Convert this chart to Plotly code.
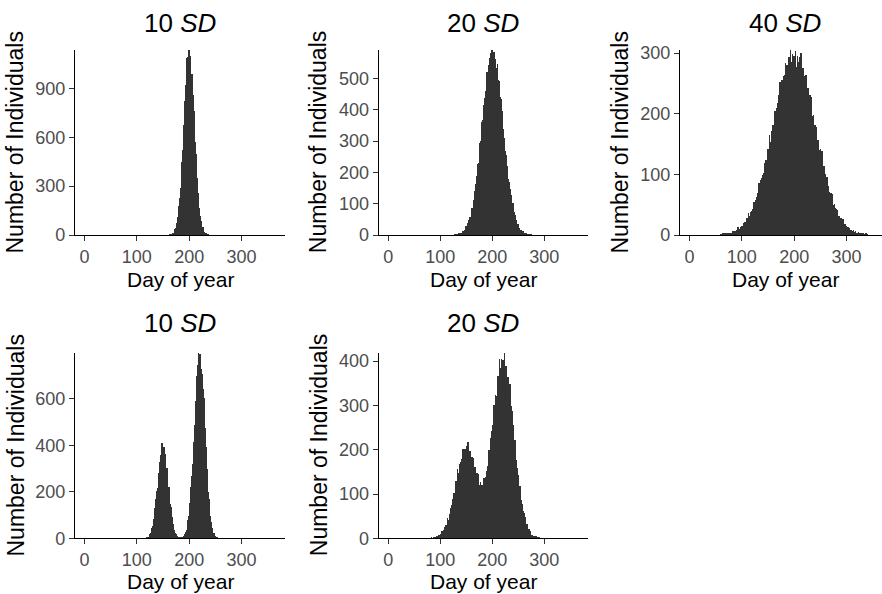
import plotly.graph_objects as go

# ---- daily counts of individuals (one bin per day), listed from the first day shown ----
sd10_start = 163
sd10_counts = [
    2, 0, 2, 5, 4, 5, 11, 12, 11, 24,
    34, 37, 44, 76, 76, 101, 109, 161, 175, 226,
    272, 290, 366, 446, 468, 520, 626, 676, 699, 820,
    898, 921, 958, 1083, 1051, 1095, 1064, 1135, 1084, 1101,
    1081, 990, 989, 970, 857, 780, 762, 676, 569, 553,
    499, 413, 347, 341, 257, 223, 167, 161, 115, 103,
    84, 53, 51, 47, 27, 18, 20, 12, 5, 8,
    7, 3, 1, 4, 1,
]

sd20_start = 126
sd20_counts = [
    0, 1, 0, 1, 2, 1, 3, 2, 2, 4, 3, 5, 4, 7, 6,
    8, 5, 13, 9, 14, 17, 12, 20, 29, 23, 23, 37, 37, 31, 48, 58, 55, 57, 85, 74,
    87, 82, 112, 107, 127, 141, 133, 162, 189, 180, 186, 226, 231, 222, 269, 294, 291, 299, 361, 340,
    367, 357, 415, 402, 438, 459, 437, 483, 521, 494, 495, 544, 538, 510, 564, 583, 559, 550, 591, 563,
    574, 538, 585, 545, 561, 559, 510, 533, 547, 494, 470, 493, 463, 414, 440, 434, 393, 366, 397, 340,
    332, 290, 309, 267, 267, 254, 212, 218, 219, 180, 159, 168, 147, 117, 129, 124, 101, 87, 102, 74,
    72, 53, 64, 47, 48, 44, 29, 34, 35, 23, 18, 22, 17, 9, 15, 14, 9, 6, 12, 5,
    5, 2, 6, 2, 4, 3, 0, 2, 3, 1, 0, 1, 0, 1,
]

sd40_start = 60
sd40_counts = [
    1, 0, 1, 2, 0, 0, 2, 1, 0, 2, 3, 1, 1, 4, 2, 2, 1, 4, 2, 4,
    4, 1, 4, 7, 3, 3, 7, 5, 2, 7, 9, 6, 5, 13, 8, 10, 6, 13, 9, 13,
    15, 9, 15, 20, 14, 13, 21, 19, 14, 24, 28, 23, 22, 36, 26, 31, 25, 38, 31, 39,
    43, 34, 45, 54, 44, 43, 58, 55, 46, 63, 70, 63, 62, 85, 70, 78, 68, 91, 80, 94,
    99, 86, 103, 118, 103, 102, 124, 120, 105, 132, 141, 132, 130, 165, 143, 153, 140, 171, 156, 174,
    181, 162, 185, 205, 184, 181, 209, 203, 185, 218, 230, 216, 213, 253, 225, 237, 219, 256, 236, 255,
    262, 237, 263, 284, 257, 251, 281, 272, 247, 282, 293, 275, 267, 305, 277, 286, 264, 299, 274, 292,
    295, 266, 289, 303, 277, 268, 295, 283, 254, 286, 293, 271, 260, 300, 263, 269, 244, 276, 248, 261,
    262, 232, 250, 264, 232, 220, 242, 228, 201, 226, 230, 208, 197, 228, 194, 197, 173, 198, 173, 182,
    181, 155, 168, 178, 150, 140, 157, 144, 120, 140, 141, 124, 114, 139, 112, 113, 95, 113, 94, 101,
    99, 80, 89, 96, 75, 68, 80, 71, 56, 69, 70, 57, 52, 67, 50, 50, 39, 51, 39, 44,
    43, 30, 37, 41, 30, 25, 32, 28, 18, 26, 28, 21, 18, 27, 17, 18, 11, 18, 12, 14,
    15, 8, 12, 14, 9, 6, 11, 8, 3, 8, 9, 6, 4, 9, 4, 5, 2, 6, 3, 4,
    4, 1, 3, 5, 2, 1, 3, 2, 0, 2, 3, 1, 1, 3, 1, 1, 0, 2, 0, 1, 1,
]

bi10_start = 115
bi10_counts = [
    1, 0, 2, 4, 2, 2, 8, 8, 5, 15,
    21, 21, 23, 45, 40, 53, 53, 84, 85, 111,
    132, 131, 169, 206, 204, 220, 270, 282, 275, 330,
    358, 351, 355, 410, 377, 389, 360, 394, 356, 363,
    351, 301, 306, 303, 251, 220, 222, 188, 146, 150,
    136, 105, 84, 92, 61, 53, 34, 39, 24, 24,
    19, 9, 11, 12, 5, 3, 4, 3, 1, 3,
    4, 2, 5, 4, 8, 10, 8, 19, 17, 28,
    37, 36, 57, 81, 81, 96, 136, 154, 163, 222,
    268, 288, 320, 412, 417, 474, 490, 584, 592, 657,
    700, 686, 749, 799, 760, 750, 793, 763, 700, 728,
    710, 642, 590, 606, 510, 474, 398, 394, 322, 298,
    262, 199, 187, 170, 122, 96, 92, 70, 44, 46,
    40, 25, 17, 22, 11, 10, 3, 7, 2, 3, 1,
]

bi20_start = 80
bi20_counts = [
    0, 0, 1, 2, 0, 0, 2, 1, 0, 2, 4, 2, 2, 7, 3, 5, 2, 8, 5, 9,
    10, 7, 12, 17, 13, 12, 20, 19, 15, 26, 31, 28, 28, 46, 37, 43, 38, 56, 50, 62,
    68, 59, 76, 90, 80, 81, 103, 102, 91, 117, 129, 122, 122, 157, 138, 149, 138, 169, 155, 173,
    180, 161, 184, 202, 181, 177, 202, 194, 173, 202, 210, 193, 185, 219, 189, 194, 172, 198, 175, 185,
    184, 159, 173, 183, 156, 145, 162, 149, 125, 145, 147, 130, 120, 146, 120, 122, 106, 127, 110, 120,
    122, 106, 121, 136, 120, 117, 140, 136, 123, 153, 165, 158, 160, 201, 181, 198, 188, 227, 216, 242,
    256, 239, 273, 302, 283, 284, 325, 322, 303, 348, 367, 352, 351, 405, 370, 385, 361, 406, 379, 400,
    404, 370, 396, 419, 376, 362, 390, 371, 333, 363, 365, 333, 314, 349, 302, 299, 265, 288, 251, 256,
    247, 209, 218, 222, 185, 167, 178, 159, 129, 143, 138, 116, 102, 118, 89, 87, 67, 79, 59, 62,
    57, 40, 45, 48, 33, 26, 32, 25, 15, 22, 21, 14, 11, 18, 9, 9, 4, 9, 4, 6,
    6, 2, 4, 5, 2, 1, 3, 2, 0, 1, 2, 0, 1, 0, 1, 0,
]

# ---- labels and ticks ----
panel_titles = ["10 <i>SD</i>", "20 <i>SD</i>", "40 <i>SD</i>", "10 <i>SD</i>", "20 <i>SD</i>"]
x_tick_values = [0, 100, 200, 300]
y_tick_values = [
    [0, 300, 600, 900],
    [0, 100, 200, 300, 400, 500],
    [0, 100, 200, 300],
    [0, 200, 400, 600],
    [0, 100, 200, 300, 400],
]
x_title = "Day of year"
y_title = "Number of Individuals"

series = [
    (sd10_start, sd10_counts),
    (sd20_start, sd20_counts),
    (sd40_start, sd40_counts),
    (bi10_start, bi10_counts),
    (bi20_start, bi20_counts),
]

# ---- page geometry (pixels) ----
W, H = 882, 594
col_px = [(75.0, 285.0), (378.7, 587.7), (680.0, 882.0)]
row_px = [(50.0, 235.0), (352.7, 538.3)]
grid = [(0, 0), (0, 1), (0, 2), (1, 0), (1, 1)]
x_full = [-18.25, 383.25]
px_per_day = (col_px[0][1] - col_px[0][0]) / (x_full[1] - x_full[0])

# vertical centre (px) of the panel titles and of the x-axis titles, per row
title_mid = [23.0, 323.0]
xtitle_mid = [279.5, 581.0]

FONT = "Liberation Sans, Arial, sans-serif"
BAR = "#333333"

fig = go.Figure()
annotations = []
layout_axes = {}

for k, ((start, counts), (r, c)) in enumerate(zip(series, grid)):
    n = k + 1
    xa = "x" if n == 1 else f"x{n}"
    ya = "y" if n == 1 else f"y{n}"
    days = [start + i for i in range(len(counts))]

    fig.add_trace(go.Bar(
        x=days, y=counts, width=1,
        marker=dict(color=BAR, line=dict(width=0)),
        xaxis=xa, yaxis=ya, hoverinfo="x+y", showlegend=False,
    ))

    x0, x1 = col_px[c]
    y0, y1 = row_px[r]
    xr = list(x_full)
    if c == 2:
        xr[1] = x_full[0] + (x1 - x0) / px_per_day

    axis_common = dict(
        showline=True, linecolor="black", linewidth=1.1,
        ticks="outside", ticklen=5, tickwidth=1.1, tickcolor="#333333",
        showgrid=False, zeroline=False,
        tickfont=dict(family=FONT, size=18, color="#4d4d4d"),
        fixedrange=True,
    )
    layout_axes["xaxis" if n == 1 else f"xaxis{n}"] = dict(
        axis_common, domain=[x0 / W, x1 / W], range=xr,
        tickmode="array", tickvals=x_tick_values, anchor=ya,
    )
    layout_axes["yaxis" if n == 1 else f"yaxis{n}"] = dict(
        axis_common, domain=[1 - y1 / H, 1 - y0 / H], range=[0, max(counts)],
        tickmode="array", tickvals=y_tick_values[k], anchor=xa,
    )

    cx = (x0 + x1) / 2 if c < 2 else (x0 + x0 + (x_full[1] - x_full[0]) * px_per_day) / 2
    # panel title
    annotations.append(dict(
        text=panel_titles[k], x=cx / W, y=1 - title_mid[r] / H,
        xref="paper", yref="paper", xanchor="center", yanchor="middle",
        borderpad=0, borderwidth=0,
        showarrow=False, font=dict(family=FONT, size=26, color="black"),
    ))
    # x-axis title
    annotations.append(dict(
        text=x_title, x=cx / W, y=1 - xtitle_mid[r] / H,
        xref="paper", yref="paper", xanchor="center", yanchor="middle",
        borderpad=0, borderwidth=0,
        showarrow=False, font=dict(family=FONT, size=21, color="black"),
    ))
    # y-axis title
    annotations.append(dict(
        text=y_title, x=(x0 - 60) / W, y=1 - ((y0 + y1) / 2) / H,
        xref="paper", yref="paper", xanchor="center", yanchor="middle",
        textangle=-90, borderpad=0, borderwidth=0, showarrow=False,
        font=dict(family=FONT, size=23, color="black"),
    ))

fig.update_layout(
    width=W, height=H,
    margin=dict(l=0, r=0, t=0, b=0, autoexpand=False),
    paper_bgcolor="white", plot_bgcolor="white",
    bargap=0, barmode="overlay",
    font=dict(family=FONT),
    annotations=annotations,
    **layout_axes,
)

fig.write_html("out.html", config={"displayModeBar": False})
